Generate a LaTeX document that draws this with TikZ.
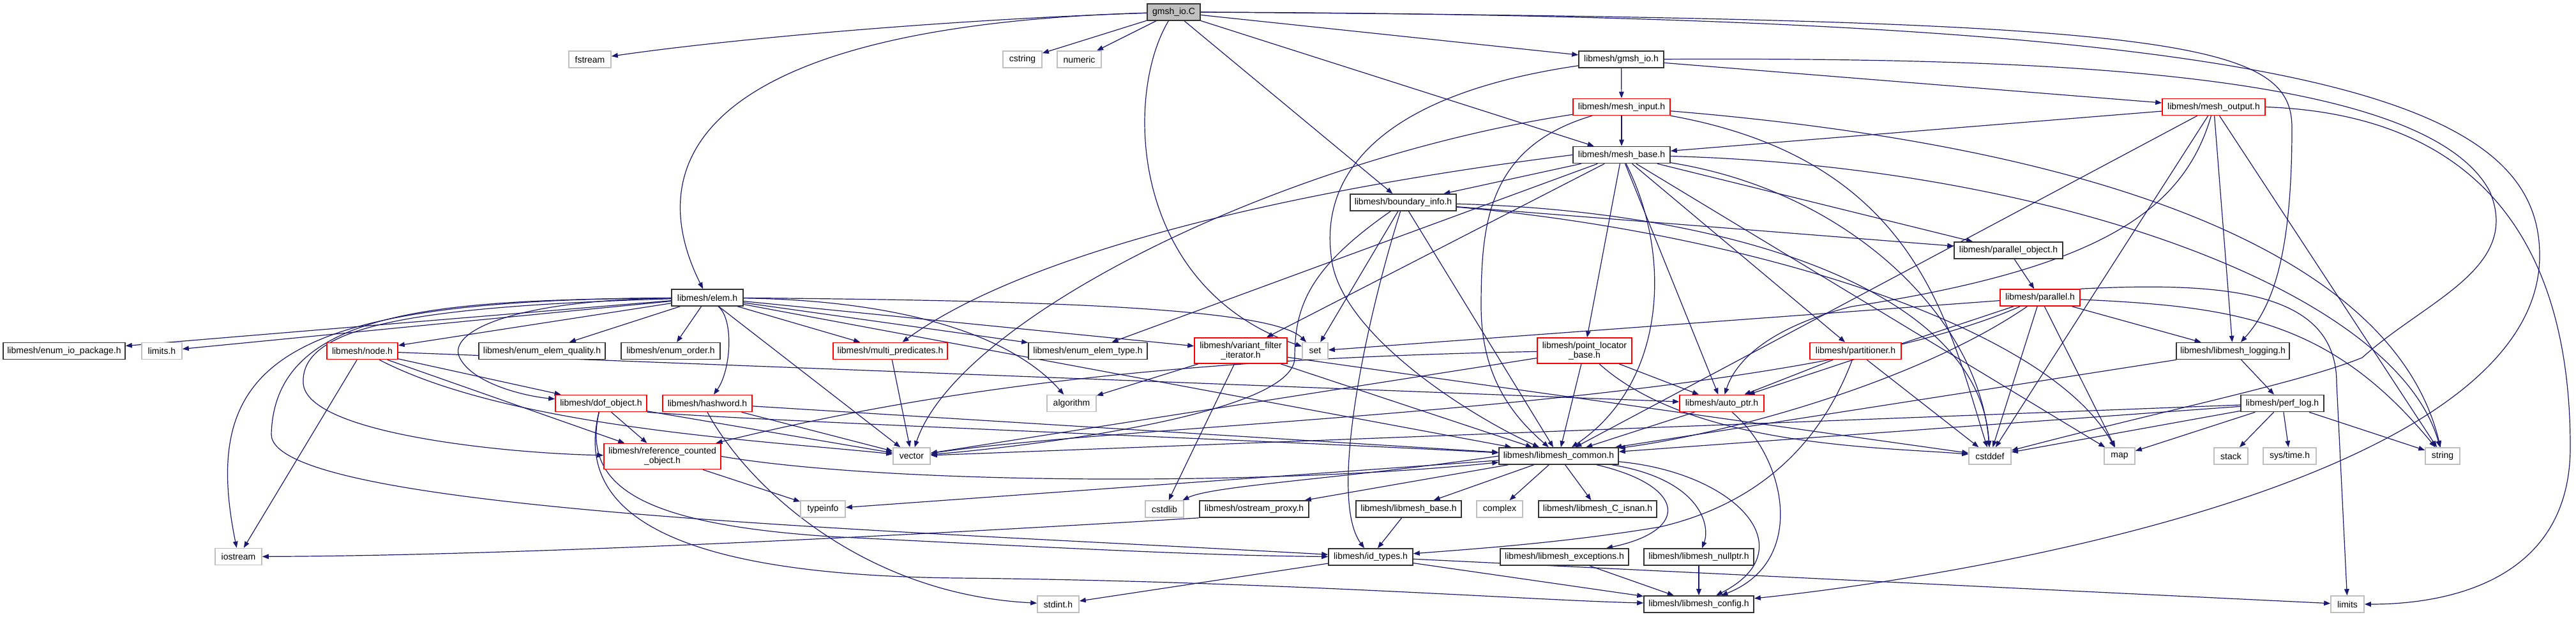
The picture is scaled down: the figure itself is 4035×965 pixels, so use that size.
\documentclass[tikz,border=0pt]{standalone}
\usepackage{fontspec}
\setmainfont{Liberation Sans}
\usepackage{tikz}
\usetikzlibrary{arrows.meta,backgrounds}
\definecolor{incblue}{RGB}{25,25,112}
\definecolor{grey75}{RGB}{191,191,191}

\begin{document}
\begin{tikzpicture}[x=0.5pt,y=-0.5pt,
  box/.style={rectangle,fill=white,minimum height=13pt,inner xsep=2pt,inner ysep=0pt,
    font=\fontsize{7}{7.5}\selectfont,align=center,line width=0.8pt},
  doc/.style={box,draw=black!80},
  trunc/.style={box,draw=red},
  sys/.style={box,draw=grey75},
  root/.style={box,draw=black!80,fill=grey75},
  tall/.style={minimum height=20pt},
  inc/.style={draw=incblue,line width=0.6pt,-{Triangle[length=5pt,width=3.8pt]}}]
\useasboundingbox (0,0) rectangle (4035,965);

\node[root, minimum width=41.5pt] (gmshC) at (1838.5,19) {gmsh\_io.C};

\node[sys, minimum width=33pt] (fstream) at (924,93) {fstream};
\node[sys, minimum width=30.5pt] (cstring) at (1601.5,93) {cstring};
\node[sys, minimum width=34.5pt] (numeric) at (1690.5,93) {numeric};
\node[doc, minimum width=66.5pt] (gmshh) at (2539.5,93) {libmesh/gmsh\_io.h};

\node[trunc, minimum width=76pt] (meshin) at (2540,167.5) {libmesh/mesh\_input.h};
\node[trunc, minimum width=80.5pt] (meshout) at (3467.5,167.5) {libmesh/mesh\_output.h};
\node[doc, minimum width=76pt] (meshbase) at (2540,242.5) {libmesh/mesh\_base.h};
\node[doc, minimum width=83pt] (bdry) at (2198,317) {libmesh/boundary\_info.h};
\node[doc, minimum width=85pt] (parobj) at (3146,392) {libmesh/parallel\_object.h};
\node[doc, minimum width=56pt] (elem) at (1108,466) {libmesh/elem.h};
\node[trunc, minimum width=62.5pt] (parallel) at (3195.5,466) {libmesh/parallel.h};

\node[doc, minimum width=95.5pt] (enumio) at (100.5,549.5) {libmesh/enum\_io\_package.h};
\node[sys, minimum width=31.5pt] (limitsh) at (253.5,549.5) {limits.h};
\node[trunc, minimum width=55.5pt] (node) at (567.5,549.5) {libmesh/node.h};
\node[doc, minimum width=99pt] (enumq) at (849,549.5) {libmesh/enum\_elem\_quality.h};
\node[doc, minimum width=77.5pt] (enumord) at (1050.5,549.5) {libmesh/enum\_order.h};
\node[trunc, minimum width=89.5pt] (multipred) at (1394.5,549.5) {libmesh/multi\_predicates.h};
\node[doc, minimum width=93pt] (enumtype) at (1704,549.5) {libmesh/enum\_elem\_type.h};
\node[trunc, tall, minimum width=72.5pt] (vfi) at (1943.5,549) {libmesh/variant\_filter\\\_iterator.h};
\node[sys, minimum width=20pt] (set) at (2060,549.5) {set};
\node[trunc, tall, minimum width=74pt] (plb) at (2482,549) {libmesh/point\_locator\\\_base.h};
\node[trunc, minimum width=71.5pt] (part) at (2906.5,549.5) {libmesh/partitioner.h};
\node[doc, minimum width=88.5pt] (logging) at (3497.5,549.5) {libmesh/libmesh\_logging.h};

\node[trunc, minimum width=71.5pt] (dof) at (941.5,631.5) {libmesh/dof\_object.h};
\node[trunc, minimum width=70pt] (hash) at (1108,631.5) {libmesh/hashword.h};
\node[sys, minimum width=38.5pt] (algorithm) at (1678.5,631.5) {algorithm};
\node[trunc, minimum width=66pt] (autoptr) at (2697,631.5) {libmesh/auto\_ptr.h};
\node[doc, minimum width=65pt] (perflog) at (3575,631.5) {libmesh/perf\_log.h};

\node[trunc, tall, minimum width=91.5pt] (refc) at (1037.5,714.5) {libmesh/reference\_counted\\\_object.h};
\node[sys, minimum width=29pt] (vector) at (1428,714) {vector};
\node[doc, minimum width=93.5pt] (common) at (2441.5,714) {libmesh/libmesh\_common.h};
\node[sys, minimum width=33pt] (cstddef) at (3117,714) {cstddef};
\node[sys, minimum width=24pt] (map) at (3320,714) {map};
\node[sys, minimum width=26.5pt] (stack) at (3494.5,714) {stack};
\node[sys, minimum width=41.5pt] (systime) at (3586.5,714) {sys/time.h};
\node[sys, minimum width=27pt] (string) at (3826,714) {string};

\node[sys, minimum width=35pt] (typeinfo) at (1289,797) {typeinfo};
\node[sys, minimum width=30pt] (cstdlib) at (1824,797) {cstdlib};
\node[doc, minimum width=85.5pt] (ostream) at (1964.5,797) {libmesh/ostream\_proxy.h};
\node[doc, minimum width=82.5pt] (lmbase) at (2206.5,797) {libmesh/libmesh\_base.h};
\node[sys, minimum width=36pt] (complex) at (2349,797) {complex};
\node[doc, minimum width=92.5pt] (isnan) at (2502.5,797) {libmesh/libmesh\_C\_isnan.h};

\node[sys, minimum width=36.5pt] (iostream) at (373.5,871.5) {iostream};
\node[doc, minimum width=66pt] (idtypes) at (2147,872) {libmesh/id\_types.h};
\node[doc, minimum width=100.5pt] (exc) at (2450.5,872) {libmesh/libmesh\_exceptions.h};
\node[doc, minimum width=86pt] (nullptr) at (2661,872) {libmesh/libmesh\_nullptr.h};

\node[sys, minimum width=32.5pt] (stdint) at (1657.5,946) {stdint.h};
\node[doc, minimum width=86pt] (config) at (2661,946) {libmesh/libmesh\_config.h};
\node[sys, minimum width=26pt] (limits) at (3677,946) {limits};

% include edges go behind the boxes
\begin{scope}[on background layer]
\draw[inc] (gmshC) .. controls (1500,30) and (1150,60) .. (fstream);
\draw[inc] (gmshC) -- (cstring);
\draw[inc] (gmshC) -- (numeric);
\draw[inc] (gmshC) .. controls (1100,40) and (1000,250) .. (elem);
\draw[inc] (gmshC) .. controls (1760,150) and (1770,450) .. (set);
\draw[inc] (gmshC) -- (gmshh);
\draw[inc] (gmshC) -- (meshbase);
\draw[inc] (gmshC) -- (bdry);
\draw[inc] (gmshC.east) .. controls (3400,30) and (3590,60) .. (3590,200) .. controls (3590,400) and (3560,480) .. (logging);
\draw[inc] (gmshC.east) .. controls (3600,25) and (3978,150) .. (3978,400) .. controls (3978,750) and (3100,900) .. (config);

\draw[inc] (gmshh) -- (meshin);
\draw[inc] (gmshh) -- (meshout);
\draw[inc] (gmshh) .. controls (2150,150) and (2070,280) .. (2085,400) .. controls (2095,520) and (2300,650) .. (common);
\draw[inc] (gmshh) .. controls (3200,90) and (3800,110) .. (3900,300) .. controls (3950,420) and (3800,470) .. (3700,560) .. controls (3600,600) and (3400,640) .. (cstddef);

\draw[inc] (meshin) -- (meshbase);
\draw[inc] (meshin) .. controls (2330,230) and (2320,350) .. (2320,480) .. controls (2320,600) and (2380,660) .. (common);
\draw[inc] (meshin) .. controls (2000,250) and (1500,500) .. (vector);
\draw[inc] (meshin) .. controls (3000,250) and (3050,500) .. (cstddef);
\draw[inc] (meshin) .. controls (3300,230) and (3750,400) .. (string);

\draw[inc] (meshout) -- (meshbase);
\draw[inc] (meshout) .. controls (3420,330) and (3290,420) .. (2900,480) .. controls (2780,510) and (2720,560) .. (autoptr);
\draw[inc] (meshout) -- (logging);
\draw[inc] (meshout) -- (cstddef);
\draw[inc] (meshout) -- (string);
\draw[inc] (meshout) -- (common);
\draw[inc] (meshout.east) .. controls (3900,180) and (4026,400) .. (4026,700) .. controls (4026,900) and (3850,946) .. (limits);

\draw[inc] (meshbase) -- (bdry);
\draw[inc] (meshbase) -- (enumtype);
\draw[inc] (meshbase.west) .. controls (2000,300) and (1600,400) .. (multipred);
\draw[inc] (meshbase) -- (vfi);
\draw[inc] (meshbase) -- (plb);
\draw[inc] (meshbase) .. controls (2620,400) and (2610,600) .. (common);
\draw[inc] (meshbase) -- (autoptr);
\draw[inc] (meshbase) -- (part);
\draw[inc] (meshbase) -- (parobj);
\draw[inc] (meshbase) .. controls (2900,300) and (3100,500) .. (cstddef);
\draw[inc] (meshbase) .. controls (3200,260) and (3750,450) .. (string);
\draw[inc] (meshbase) -- (map);

\draw[inc] (bdry) -- (parobj);
\draw[inc] (bdry) -- (set);
\draw[inc] (bdry) .. controls (2140,500) and (2080,780) .. (idtypes);
\draw[inc] (bdry) -- (common);
\draw[inc] (bdry) .. controls (2050,420) and (2028,480) .. (2028,560) .. controls (2028,650) and (1600,700) .. (vector);
\draw[inc] (bdry) .. controls (2700,360) and (3200,500) .. (map);
\draw[inc] (bdry) .. controls (2700,330) and (3100,450) .. (cstddef);

\draw[inc] (parobj) -- (parallel);
\draw[inc] (parallel) -- (set);
\draw[inc] (parallel) -- (autoptr);
\draw[inc] (parallel) -- (logging);
\draw[inc] (parallel) .. controls (3000,600) and (2700,680) .. (common);
\draw[inc] (parallel) -- (cstddef);
\draw[inc] (parallel) -- (map);
\draw[inc] (parallel) .. controls (3500,480) and (3650,500) .. (string);
\draw[inc] (parallel.north east) .. controls (3500,440) and (3660,460) .. (3660,600) -- (limits);
\draw[inc] (parallel) .. controls (2800,640) and (1800,660) .. (vector);

\draw[inc] (elem) -- (enumio);
\draw[inc] (elem) -- (limitsh);
\draw[inc] (elem) -- (node);
\draw[inc] (elem) -- (enumq);
\draw[inc] (elem) -- (enumord);
\draw[inc] (elem) -- (multipred);
\draw[inc] (elem) -- (enumtype);
\draw[inc] (elem) -- (vfi);
\draw[inc] (elem) .. controls (1600,470) and (1990,480) .. (set);
\draw[inc] (elem) .. controls (800,470) and (700,520) .. (720,560) .. controls (740,600) and (820,620) .. (dof);
\draw[inc] (elem) .. controls (650,480) and (470,510) .. (475,600) .. controls (480,680) and (800,710) .. (refc);
\draw[inc] (elem) .. controls (1150,500) and (1145,580) .. (hash);
\draw[inc] (elem) .. controls (1400,470) and (1580,520) .. (algorithm);
\draw[inc] (elem) -- (vector);
\draw[inc] (elem) .. controls (450,470) and (310,560) .. (iostream);
\draw[inc] (elem) -- (common);
\draw[inc] (elem) .. controls (700,470) and (430,480) .. (425,680) .. controls (425,800) and (1400,830) .. (idtypes);

\draw[inc] (node) -- (iostream);
\draw[inc] (node) -- (dof);
\draw[inc] (node) -- (refc);
\draw[inc] (node) .. controls (800,670) and (1200,690) .. (vector);
\draw[inc] (node) -- (autoptr);

\draw[inc] (dof) -- (refc);
\draw[inc] (dof) -- (vector);
\draw[inc] (dof.south east) .. controls (1200,660) and (2000,690) .. (common);
\draw[inc] (dof) .. controls (912,760) and (1000,820) .. (1300,840) .. controls (1700,860) and (1900,870) .. (idtypes);
\draw[inc] (dof) .. controls (905,780) and (1000,900) .. (1500,905) .. controls (2000,910) and (2400,940) .. (config);

\draw[inc] (hash.south) .. controls (1170,760) and (1350,930) .. (stdint);
\draw[inc] (hash) -- (vector);
\draw[inc] (hash) -- (common);
\draw[inc] (refc) -- (typeinfo);
\draw[inc] (refc.east) .. controls (1400,760) and (2000,760) .. (common);
\draw[inc] (multipred) -- (vector);

\draw[inc] (vfi) -- (algorithm);
\draw[inc] (vfi) -- (cstdlib);
\draw[inc] (vfi) -- (common);
\draw[inc] (vfi) -- (cstddef);
\draw[inc] (plb) .. controls (1900,560) and (1500,600) .. (refc);
\draw[inc] (plb) -- (vector);
\draw[inc] (plb) -- (common);
\draw[inc] (plb) -- (autoptr);
\draw[inc] (plb) .. controls (2650,700) and (2950,700) .. (cstddef);
\draw[inc] (part) -- (autoptr);
\draw[inc] (part) .. controls (2850,700) and (2750,790) .. (2600,825) .. controls (2450,850) and (2300,860) .. (idtypes);
\draw[inc] (part) -- (cstddef);

\draw[inc] (logging) -- (common);
\draw[inc] (logging) -- (perflog);
\draw[inc] (perflog) -- (common);
\draw[inc] (perflog) -- (vector);
\draw[inc] (perflog) -- (cstddef);
\draw[inc] (perflog) -- (map);
\draw[inc] (perflog) -- (stack);
\draw[inc] (perflog) -- (systime);
\draw[inc] (perflog) -- (string);
\draw[inc] (autoptr) -- (common);
\draw[inc] (autoptr) .. controls (2800,720) and (2830,880) .. (config);

\draw[inc] (common) -- (typeinfo);
\draw[inc] (common.west) .. controls (2100,750) and (1900,760) .. (cstdlib);
\draw[inc] (common) -- (ostream);
\draw[inc] (common) -- (lmbase);
\draw[inc] (common) -- (complex);
\draw[inc] (common) -- (isnan);
\draw[inc] (common) .. controls (2640,760) and (2650,830) .. (exc);
\draw[inc] (common) .. controls (2660,750) and (2680,820) .. (nullptr);
\draw[inc] (common) .. controls (2720,740) and (2830,860) .. (config);
\draw[inc] (lmbase) -- (idtypes);
\draw[inc] (ostream.south west) .. controls (1400,840) and (800,870) .. (iostream);
\draw[inc] (idtypes) -- (stdint);
\draw[inc] (idtypes) -- (config);
\draw[inc] (idtypes) -- (limits);
\draw[inc] (exc) -- (config);
\draw[inc] (nullptr) -- (config);
\end{scope}
\end{tikzpicture}
\end{document}
